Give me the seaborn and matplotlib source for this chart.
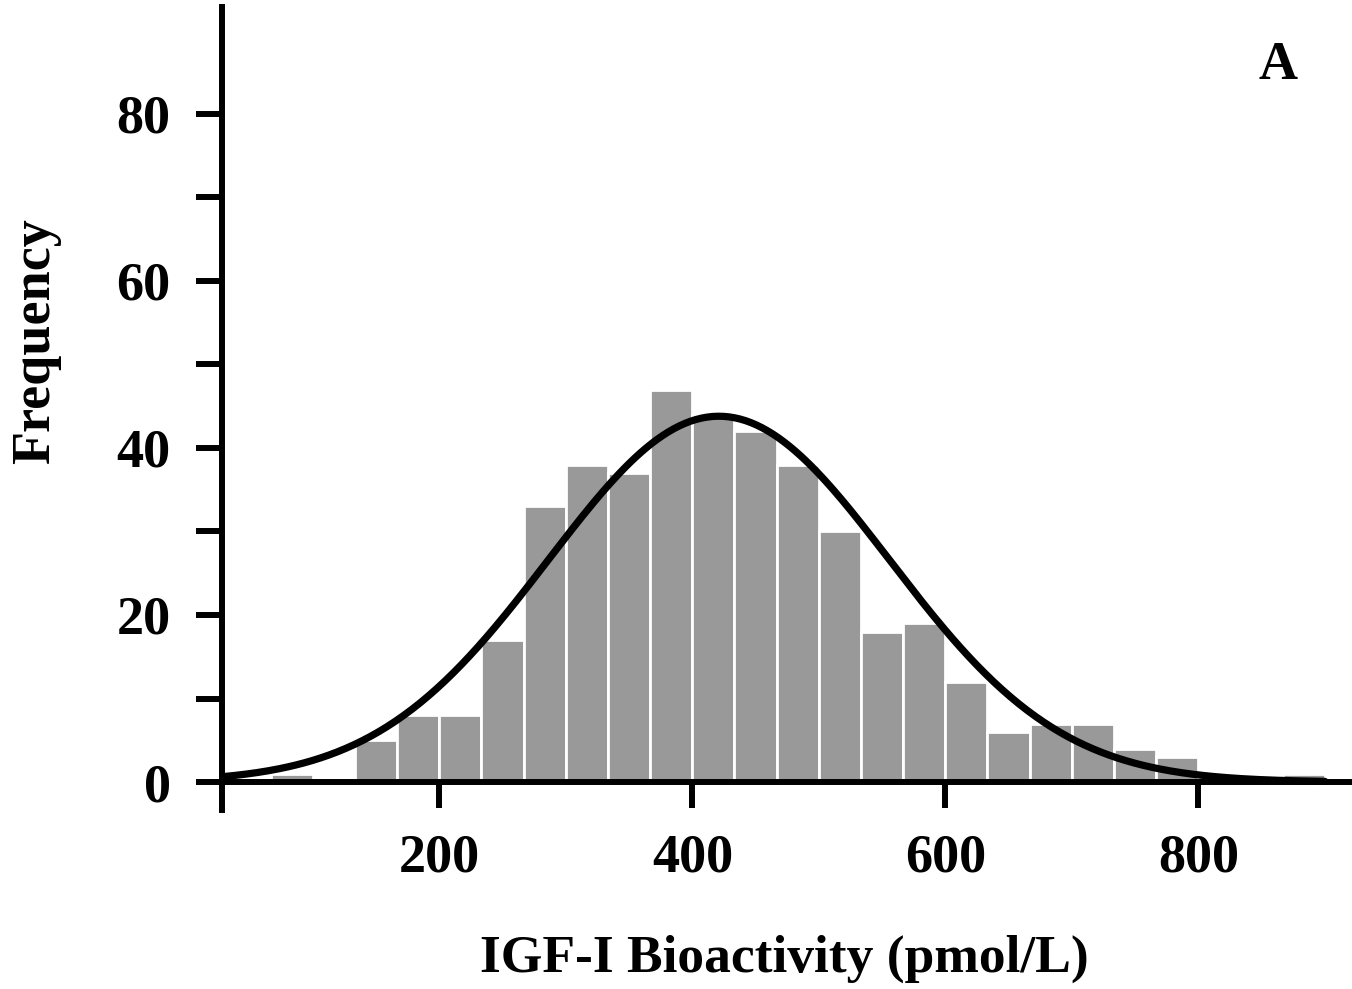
import numpy as np
import pandas as pd
import matplotlib
matplotlib.use("Agg")
import matplotlib.pyplot as plt
import seaborn as sns
from matplotlib.ticker import FixedLocator

# ---- data ----
bin_edges = [100/3 * k for k in range(1, 28)]          # 33.3 ... 900
counts = [0, 1, 0, 5, 8, 8, 17, 33, 38, 37, 47, 44, 42, 38, 30,
          18, 19, 12, 6, 7, 7, 4, 3, 0, 0, 1]
fit_mean = 421.0
fit_sd = 135.0
fit_peak = 43.8
curve_start, curve_end = 30.0, 900.0
x_ticks = [200, 400, 600, 800]
y_ticks = [0, 20, 40, 60, 80]
y_minor_ticks = [10, 30, 50, 70]
x_label = "IGF-I Bioactivity (pmol/L)"
y_label = "Frequency"
panel_label = "A"

edges = np.array(bin_edges)
centers = (edges[:-1] + edges[1:]) / 2
df = pd.DataFrame({"value": centers, "count": counts})

xs = np.linspace(curve_start, curve_end, 400)
curve = pd.DataFrame({"x": xs,
                      "y": fit_peak * np.exp(-0.5 * ((xs - fit_mean) / fit_sd) ** 2)})

sns.set_theme(style="ticks")
plt.rcParams["font.family"] = ["Liberation Serif", "DejaVu Serif"]
plt.rcParams["font.weight"] = "bold"
for k in ("text.color", "axes.labelcolor", "xtick.color", "ytick.color",
          "xtick.labelcolor", "ytick.labelcolor"):
    plt.rcParams[k] = "black"

fig = plt.figure(figsize=(13.52, 9.89), dpi=100)
ax = fig.add_axes([0.1642, 0.181, 1.0 - 0.1642, 0.9929 - 0.181])

sns.histplot(data=df, x="value", weights="count", bins=list(bin_edges), ax=ax,
             color="#999999", alpha=1, edgecolor="white", linewidth=2)
sns.lineplot(data=curve, x="x", y="y", ax=ax, color="black", linewidth=5.2,
             zorder=3)

ax.set_xlim(28.2, 921.5)
ax.set_ylim(-3.35, 92.8)
ax.spines["bottom"].set_position(("data", 0))
ax.spines["top"].set_visible(False)
ax.spines["right"].set_visible(False)
for s in ("left", "bottom"):
    ax.spines[s].set_linewidth(4.3)
    ax.spines[s].set_color("black")
    ax.spines[s].set_zorder(4)

ax.set_xticks(x_ticks)
ax.set_yticks(y_ticks)
ax.yaxis.set_minor_locator(FixedLocator(y_minor_ticks))
ax.tick_params(axis="both", which="both", direction="out", length=19,
               width=4.3, color="black")
ax.tick_params(axis="both", which="major", labelsize=39, pad=18,
               labelcolor="black")
for lab in ax.get_xticklabels() + ax.get_yticklabels():
    lab.set_fontweight("bold")

ax.set_xlabel("")
ax.set_ylabel("")
fig.text(0.58, 0.017, x_label, ha="center", va="baseline",
         fontsize=38.5, fontweight="bold", color="black")
fig.text(0.027, 0.655, y_label, ha="center", va="center", rotation=90,
         fontsize=39, fontweight="bold", color="black")
ax.text(0.9345, 0.9265, panel_label, transform=ax.transAxes, ha="center",
        va="center", fontsize=39, fontweight="bold", color="black")

fig.savefig("out.png", dpi=100)
